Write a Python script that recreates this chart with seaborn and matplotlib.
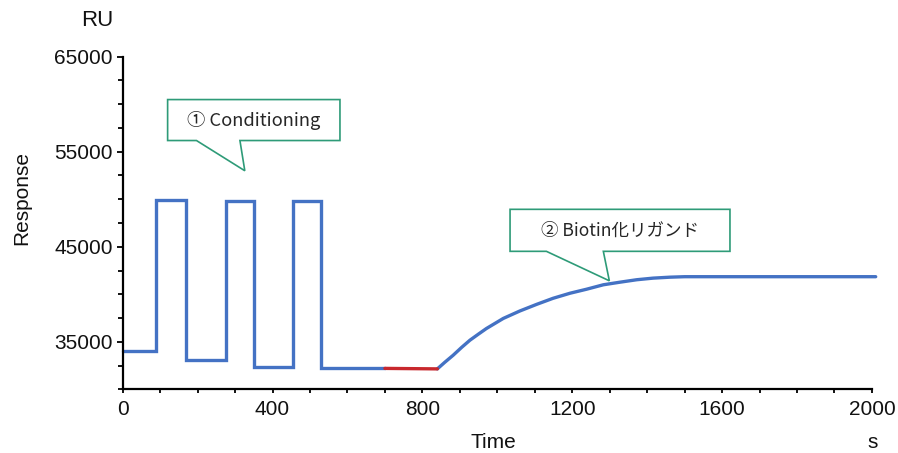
import matplotlib
matplotlib.use("Agg")
import matplotlib.pyplot as plt
from matplotlib.patches import Polygon
from matplotlib.ticker import MultipleLocator
import seaborn as sns
import pandas as pd

# ---- data ----
t_cond = [0, 90, 90, 170, 170, 275, 275, 350, 350, 455, 455, 530, 530, 700]
r_cond = [34000, 34000, 49950, 49950, 33100, 33100, 49850, 49850, 32350, 32350,
          49850, 49850, 32200, 32200]
t_base = [700, 840]
r_base = [32200, 32150]
t_lig = [840, 860, 882, 905, 927, 950, 971, 1016, 1060, 1105, 1149, 1194, 1238,
         1283, 1327, 1372, 1416, 1461, 1500, 1600, 2010]
r_lig = [32150, 32850, 33580, 34420, 35170, 35820, 36400, 37460, 38240, 38940,
         39580, 40110, 40530, 41000, 41270, 41530, 41700, 41800, 41850, 41850,
         41850]

x_ticks = [0, 400, 800, 1200, 1600, 2000]
y_ticks = [35000, 45000, 55000, 65000]
callout1 = "① Conditioning"
callout2 = "② Biotin化リガンド"

sns.set_theme(style="white")
plt.rcParams['font.family'] = ['Liberation Sans', 'DejaVu Sans']

fig = plt.figure(figsize=(8.98, 4.53), dpi=100)
ax = fig.add_axes([0.1366, 0.1406, 0.971 - 0.1366, 0.8748 - 0.1406])

blue = "#4472C4"
red = "#C8282D"

df1 = pd.DataFrame({"t": t_cond, "r": r_cond})
df2 = pd.DataFrame({"t": t_base, "r": r_base})
df3 = pd.DataFrame({"t": t_lig, "r": r_lig})
sns.lineplot(data=df1, x="t", y="r", sort=False, estimator=None, color=blue,
             lw=2.4, ax=ax)
sns.lineplot(data=df3, x="t", y="r", sort=False, estimator=None, color=blue,
             lw=2.4, ax=ax)
sns.lineplot(data=df2, x="t", y="r", sort=False, estimator=None, color=red,
             lw=2.4, ax=ax)

ax.set_xlim(0, 2000)
ax.set_ylim(30000, 65000)
ax.set_xticks(x_ticks)
ax.set_yticks(y_ticks)
ax.xaxis.set_minor_locator(MultipleLocator(100))
ax.yaxis.set_minor_locator(MultipleLocator(2500))
ax.tick_params(axis='both', which='both', direction='out', color='black',
               width=1.3, labelsize=15, labelcolor='#111111',
               bottom=True, left=True)
ax.tick_params(axis='y', which='major', length=4, pad=3)
ax.tick_params(axis='y', which='minor', length=3.5)
ax.tick_params(axis='x', which='major', length=3, pad=5)
ax.tick_params(axis='x', which='minor', length=3)
for s in ['top', 'right']:
    ax.spines[s].set_visible(False)
for s in ['left', 'bottom']:
    ax.spines[s].set_color('black')
    ax.spines[s].set_linewidth(1.6)
ax.set_xlabel("")
ax.set_ylabel("")
for ln in ax.lines:
    ln.set_clip_on(False)
    ln.set_solid_joinstyle('miter')

fig.text(113 / 898, 1 - 20 / 453, "RU", ha='right', va='center', fontsize=16,
         color='#111111')
fig.text(22 / 898, 1 - 198 / 453, "Response", ha='center', va='center',
         rotation=90, fontsize=15, color='#111111')
fig.text(493 / 898, 1 - 442 / 453, "Time", ha='center', va='center',
         fontsize=15, color='#111111')
fig.text(873 / 898, 1 - 442 / 453, "s", ha='center', va='center',
         fontsize=15, color='#111111')

teal = "#2E9B78"


def callout(x0, x1, y0, y1, bl, br, tip, text, fs):
    pts = [(x0, y1), (x1, y1), (x1, y0), (br, y0), tip, (bl, y0), (x0, y0)]
    poly = Polygon(pts, closed=True, facecolor='white', edgecolor=teal,
                   lw=1.2, zorder=5, clip_on=False, joinstyle='miter')
    ax.add_patch(poly)
    ax.text((x0 + x1) / 2, (y0 + y1) / 2, text, ha='center', va='center',
            fontsize=fs, color='#262626', zorder=6,
            family=['Noto Sans CJK JP', 'DejaVu Sans'])


callout(120, 580, 56180, 60490, 197, 313, (326, 53000), callout1, 13.2)
callout(1034, 1621, 44520, 48940, 1131, 1283, (1299, 41420), callout2, 12.6)

fig.savefig("out.png", dpi=100, facecolor='white')
